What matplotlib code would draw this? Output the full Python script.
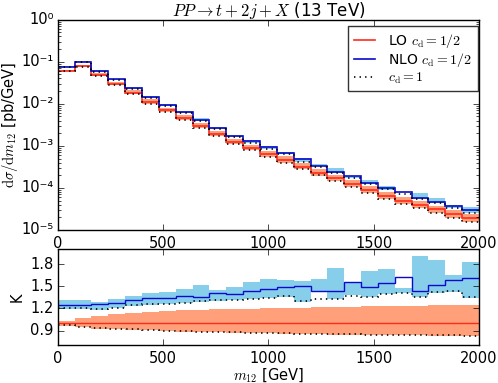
import numpy as np
import matplotlib
matplotlib.use("Agg")
import matplotlib.pyplot as plt
from matplotlib.ticker import FuncFormatter, FixedLocator

plt.style.use('classic')
plt.rcParams['mathtext.fontset'] = 'cm'
plt.rcParams['font.family'] = ['DejaVu Sans']

edges = np.arange(0, 2001, 80)

lo = [0.0611, 0.0803, 0.0490, 0.0299, 0.0183, 0.01116, 0.0070, 0.00464, 0.00299,
      0.00193, 0.00124, 0.000896, 0.000634, 0.000464, 0.000322, 0.000231, 0.000170,
      0.000125, 8.96e-5, 6.56e-5, 4.99e-5, 3.94e-5, 3.08e-5, 2.37e-5, 1.90e-5]

k_nlo = [1.247, 1.247, 1.256, 1.278, 1.308, 1.335, 1.344, 1.374, 1.361, 1.410, 1.396,
         1.441, 1.467, 1.485, 1.498, 1.432, 1.441, 1.559, 1.493, 1.546, 1.626, 1.441,
         1.520, 1.590, 1.608]
k_nlo_up = [1.313, 1.308, 1.286, 1.326, 1.374, 1.410, 1.423, 1.463, 1.520, 1.445, 1.485,
            1.559, 1.595, 1.581, 1.568, 1.595, 1.749, 1.564, 1.705, 1.736, 1.476, 1.903,
            1.850, 1.652, 1.828]
k_nlo_dn = [1.198, 1.198, 1.185, 1.203, 1.238, 1.247, 1.256, 1.269, 1.291, 1.304, 1.308,
            1.322, 1.339, 1.352, 1.291, 1.432, 1.322, 1.383, 1.348, 1.396, 1.405, 1.361,
            1.410, 1.423, 1.344]
k_nlo_cd1 = [1.207, 1.207, 1.194, 1.211, 1.247, 1.256, 1.264, 1.278, 1.300, 1.313, 1.313,
             1.330, 1.344, 1.366, 1.300, 1.330, 1.330, 1.370, 1.357, 1.401, 1.405, 1.361,
             1.419, 1.432, 1.352]
k_lo_up = [1.035, 1.070, 1.101, 1.123, 1.141, 1.154, 1.167, 1.176, 1.185, 1.189, 1.194,
           1.198, 1.203, 1.207, 1.211, 1.216, 1.220, 1.225, 1.229, 1.231, 1.233, 1.238,
           1.240, 1.242, 1.247]
k_lo_cd1 = [0.969, 0.947, 0.930, 0.925, 0.916, 0.907, 0.899, 0.890, 0.885, 0.881, 0.877,
            0.872, 0.868, 0.863, 0.859, 0.855, 0.850, 0.850, 0.846, 0.841, 0.837, 0.837,
            0.833, 0.833, 0.828]
k_lo_dn = [v - 0.004 for v in k_lo_cd1]

xticks = [0, 500, 1000, 1500, 2000]
kticks = [0.9, 1.2, 1.5, 1.8]
yexps = [-5, -4, -3, -2, -1, 0]

lo_a = np.array(lo)
c_red_band = '#ffa07a'
c_blue_band = '#87ceeb'
c_red = '#ff2a1a'
c_blue = '#0a0acc'

SUP = str.maketrans('-0123456789', '⁻⁰¹²³⁴⁵⁶⁷⁸⁹')

def logfmt(v, pos):
    e = int(round(np.log10(v)))
    return '10' + str(e).translate(SUP)

fig = plt.figure(figsize=(4.98, 3.83), dpi=100, facecolor='white')
ax1 = fig.add_axes([0.1159, 0.3995, 0.846, 0.5491])
ax2 = fig.add_axes([0.1159, 0.0984, 0.846, 0.2506])
for ax in (ax1, ax2):
    ax.set_facecolor('white')

# top panel
ax1.stairs(lo_a * np.array(k_lo_up), edges, baseline=lo_a * np.array(k_lo_dn),
           fill=True, color=c_red_band, lw=0)
ax1.stairs(lo_a * np.array(k_nlo_up), edges, baseline=lo_a * np.array(k_nlo_dn),
           fill=True, color=c_blue_band, lw=0)
ax1.stairs(lo_a, edges, color=c_red, lw=1.2, baseline=None, label=r'LO $c_\mathrm{d}=1/2$')
ax1.stairs(lo_a * np.array(k_nlo), edges, color=c_blue, lw=1.2, baseline=None,
           label=r'NLO $c_\mathrm{d}=1/2$')
ax1.stairs(lo_a * np.array(k_lo_cd1), edges, color='black', ls=':', lw=1.2, baseline=None,
           label=r'$c_\mathrm{d}=1$')
ax1.stairs(lo_a * np.array(k_nlo_cd1), edges, color='black', ls=':', lw=1.2, baseline=None)
ax1.set_yscale('log')
ax1.set_xlim(0, 2000)
ax1.set_ylim(1e-5, 1e0)
ax1.set_xticks(xticks)
ax1.yaxis.set_major_locator(FixedLocator([10.0 ** e for e in yexps]))
ax1.yaxis.set_major_formatter(FuncFormatter(logfmt))
ax1.set_ylabel(r'$\mathrm{d}\sigma/\mathrm{d}m_{12}$ [pb/GeV]', fontsize=10.5, labelpad=1)
ax1.set_title(r'$PP\to t+2j+X$ (13 TeV)', fontsize=12, pad=3)
leg = ax1.legend(loc='upper right', bbox_to_anchor=(1.0, 0.976), borderaxespad=0.1,
                 fontsize=10, handlelength=1.5, handletextpad=1.0, labelspacing=0.1,
                 borderpad=0.4, frameon=True, fancybox=False)
leg.get_frame().set_edgecolor('#333333')
leg.get_frame().set_linewidth(1.0)

# bottom panel
ax2.stairs(k_lo_up, edges, baseline=k_lo_dn, fill=True, color=c_red_band, lw=0)
ax2.stairs(k_nlo_up, edges, baseline=k_nlo_dn, fill=True, color=c_blue_band, lw=0)
ax2.stairs(np.ones(len(lo)), edges, color=c_red, lw=1.0, baseline=None)
ax2.stairs(k_nlo, edges, color=c_blue, lw=1.0, baseline=None)
ax2.stairs(k_lo_cd1, edges, color='black', ls=':', lw=1.2, baseline=None)
ax2.stairs(k_nlo_cd1, edges, color='black', ls=':', lw=1.2, baseline=None)
ax2.set_xlim(0, 2000)
ax2.set_ylim(0.7, 2.0)
ax2.set_xticks(xticks)
ax2.set_yticks(kticks)
ax2.set_ylabel('K', fontsize=10.5, labelpad=4)
ax2.set_xlabel(r'$m_{12}$ [GeV]', fontsize=10.5, labelpad=0)

for ax in (ax1, ax2):
    ax.tick_params(labelsize=10.5, pad=3)
    ax.tick_params(axis='x', pad=4)

fig.savefig('out.png', dpi=100, facecolor='white')
